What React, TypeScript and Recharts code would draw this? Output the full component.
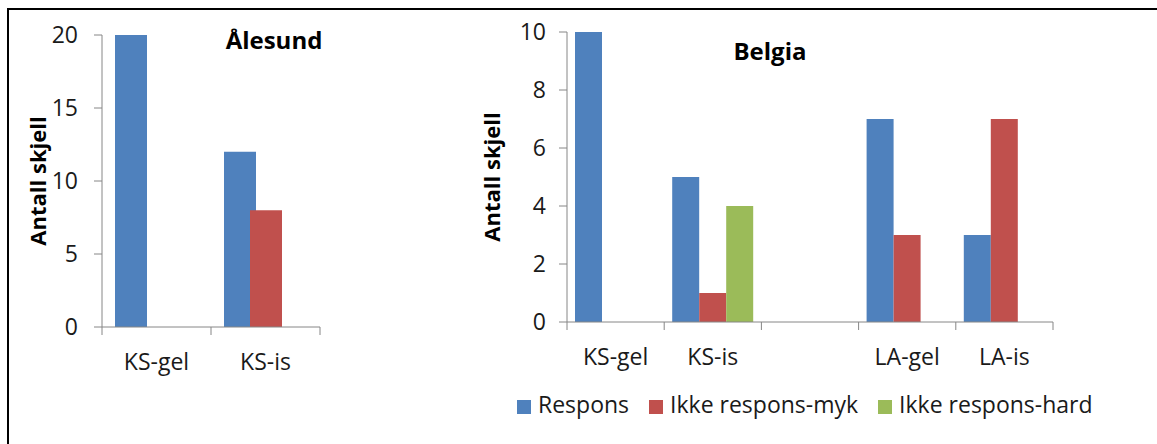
import React from "react";
import { BarChart, Bar, XAxis, YAxis, Legend } from "recharts";

// Ålesund
const ALESUND_CATS = ["KS-gel", "KS-is"];
const ALESUND_RESPONS = [20, 12];
const ALESUND_MYK = [0, 8];
const ALESUND_HARD = [0, 0];
const ALESUND_TICKS = [0, 5, 10, 15, 20];

// Belgia (the third slot is an empty category in the original)
const BELGIA_CATS = ["KS-gel", "KS-is", "", "LA-gel", "LA-is"];
const BELGIA_RESPONS = [10, 5, 0, 7, 3];
const BELGIA_MYK = [0, 1, 0, 3, 7];
const BELGIA_HARD = [0, 4, 0, 0, 0];
const BELGIA_TICKS = [0, 2, 4, 6, 8, 10];

const SERIES_NAMES = ["Respons", "Ikke respons-myk", "Ikke respons-hard"];
const COLORS = ["#4F81BD", "#C0504D", "#9BBB59"];

const FONT = "'Open Sans', sans-serif";
const AXIS = "#868686";
const TEXT = "#1a1a1a";
const TICK_SIZE = 8;
const X_TICK_MARGIN = 19;

function toRows(cats: string[], a: number[], b: number[], c: number[]) {
  return cats.map((cat, i) => ({ cat, respons: a[i], myk: b[i], hard: c[i] }));
}

const alesundData = toRows(ALESUND_CATS, ALESUND_RESPONS, ALESUND_MYK, ALESUND_HARD);
const belgiaData = toRows(BELGIA_CATS, BELGIA_RESPONS, BELGIA_MYK, BELGIA_HARD);

// excel style: tick marks sit between categories, label in the middle
function CategoryTick(props: any) {
  const { x, y, payload, index, lastIndex } = props;
  const half = payload?.offset ?? 0;
  const axisY = y - TICK_SIZE - X_TICK_MARGIN;
  return (
    <g>
      <line x1={x - half} x2={x - half} y1={axisY} y2={axisY + TICK_SIZE} stroke={AXIS} />
      {index === lastIndex && (
        <line x1={x + half} x2={x + half} y1={axisY} y2={axisY + TICK_SIZE} stroke={AXIS} />
      )}
      <text x={x} y={y} dy="0.71em" textAnchor="middle" fill={TEXT} fontSize={23} fontFamily={FONT}>
        {payload.value}
      </text>
    </g>
  );
}

const yLabel = (offset: number) => ({
  value: "Antall skjell",
  angle: -90,
  position: "insideLeft" as const,
  offset,
  style: { textAnchor: "middle", fontWeight: 700, fontSize: 22, fill: "#000", fontFamily: FONT },
});

function legendText(value: string) {
  return <span style={{ color: TEXT, marginLeft: 3, marginRight: 10 }}>{value}</span>;
}

// keep series order instead of alphabetical
const legendOrder = (item: any) => SERIES_NAMES.indexOf(item.value);

export default function App() {
  return (
    <div style={{ position: "relative", width: 1157, height: 444, background: "#fff", fontFamily: FONT, overflow: "hidden" }}>
      <style>{`body{margin:0}`}</style>
      <div style={{ position: "absolute", left: 7, top: 8, width: 1150, height: 2, background: "#000" }} />
      <div style={{ position: "absolute", left: 7, top: 8, width: 2, height: 436, background: "#000" }} />

      <div style={{ position: "absolute", left: 0, top: 0 }}>
        <BarChart
          width={400}
          height={444}
          data={alesundData}
          margin={{ top: 35, right: 80, bottom: 0, left: 0 }}
          barSize={32}
          barGap={-6}
        >
          <XAxis
            dataKey="cat"
            height={117}
            stroke={AXIS}
            tickLine={false}
            tickSize={TICK_SIZE}
            tickMargin={X_TICK_MARGIN}
            interval={0}
            tick={<CategoryTick lastIndex={ALESUND_CATS.length - 1} />}
          />
          <YAxis
            width={102}
            domain={[0, 20]}
            ticks={ALESUND_TICKS}
            stroke={AXIS}
            tickSize={TICK_SIZE}
            tickMargin={16}
            tick={{ fill: TEXT, fontSize: 23, fontFamily: FONT }}
            label={yLabel(38)}
          />
          <Bar dataKey="respons" name={SERIES_NAMES[0]} fill={COLORS[0]} isAnimationActive={false} />
          <Bar dataKey="myk" name={SERIES_NAMES[1]} fill={COLORS[1]} isAnimationActive={false} />
          <Bar dataKey="hard" name={SERIES_NAMES[2]} fill={COLORS[2]} isAnimationActive={false} />
        </BarChart>
      </div>

      <div style={{ position: "absolute", left: 440, top: 0 }}>
        <BarChart
          width={717}
          height={444}
          data={belgiaData}
          margin={{ top: 32, right: 104, bottom: 24, left: 0 }}
          barSize={27}
          barGap={0}
        >
          <XAxis
            dataKey="cat"
            height={66}
            stroke={AXIS}
            tickLine={false}
            tickSize={TICK_SIZE}
            tickMargin={X_TICK_MARGIN}
            interval={0}
            tick={<CategoryTick lastIndex={BELGIA_CATS.length - 1} />}
          />
          <YAxis
            width={127}
            domain={[0, 10]}
            ticks={BELGIA_TICKS}
            stroke={AXIS}
            tickSize={TICK_SIZE}
            tickMargin={13}
            tick={{ fill: TEXT, fontSize: 23, fontFamily: FONT }}
            label={yLabel(52)}
          />
          <Legend
            align="left"
            verticalAlign="bottom"
            iconType="square"
            iconSize={14}
            itemSorter={legendOrder}
            wrapperStyle={{ left: 77, fontSize: 23, fontFamily: FONT }}
            formatter={legendText}
          />
          <Bar dataKey="respons" name={SERIES_NAMES[0]} fill={COLORS[0]} isAnimationActive={false} />
          <Bar dataKey="myk" name={SERIES_NAMES[1]} fill={COLORS[1]} isAnimationActive={false} />
          <Bar dataKey="hard" name={SERIES_NAMES[2]} fill={COLORS[2]} isAnimationActive={false} />
        </BarChart>
      </div>

      <svg width={1157} height={444} style={{ position: "absolute", left: 0, top: 0, pointerEvents: "none" }}>
        <text x={274} y={49} textAnchor="middle" fontWeight={700} fontSize={24} fontFamily={FONT} fill="#000">
          Ålesund
        </text>
        <text x={770} y={60} textAnchor="middle" fontWeight={700} fontSize={24} fontFamily={FONT} fill="#000">
          Belgia
        </text>
      </svg>
    </div>
  );
}
